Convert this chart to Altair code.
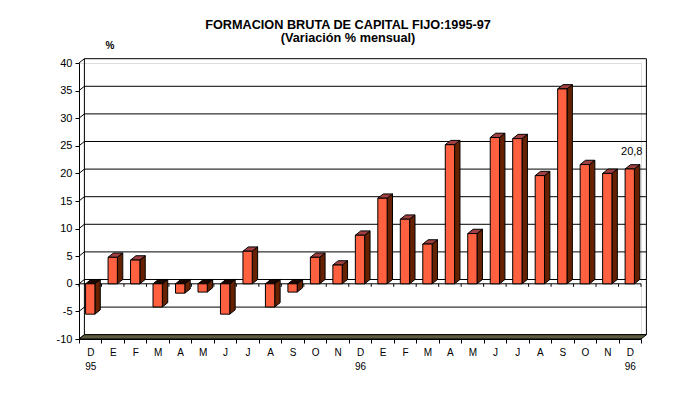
import json
import altair as alt
import pandas as pd

# ---------------- data ----------------
months = ["D", "E", "F", "M", "A", "M", "J", "J", "A", "S", "O", "N",
          "D", "E", "F", "M", "A", "M", "J", "J", "A", "S", "O", "N", "D"]
years = ["95", "", "", "", "", "", "", "", "", "", "", "",
         "96", "", "", "", "", "", "", "", "", "", "", "", "96"]
values = [-5.5, 4.8, 4.3, -4.2, -1.7, -1.5, -5.5, 5.9, -4.2, -1.5, 4.8, 3.4,
          8.8, 15.5, 11.7, 7.2, 25.2, 9.1, 26.5, 26.3, 19.6, 35.3, 21.6, 20.0, 20.8]
y_ticks = [-10, -5, 0, 5, 10, 15, 20, 25, 30, 35, 40]
title_text = "FORMACION BRUTA DE CAPITAL FIJO:1995-97"
subtitle_text = "(Variación % mensual)"
unit_text = "%"
labelled_index = 24

# ---------------- style ----------------
HW = 0.207      # half width of a bar's front face (category units)
DX = 0.24       # 3D depth, x (category units)
DY = 0.78       # 3D depth, y (value units)
FRONT = "#FF6040"
SIDE = "#662200"
TOP = "#A04040"
TOP_NEG = "#1A0800"
FLOOR = "#5F5B40"
FONT = "Liberation Sans"
TFONT = "Liberation Sans"

n = len(values)
ymin, ymax = y_ticks[0], y_ticks[-1]

lab = [[m, y] if y else m for m, y in zip(months, years)]
label_expr = json.dumps(lab) + "[datum.value] || ''"

XS = alt.Scale(domain=[0, n], nice=False, zero=False)
YS = alt.Scale(domain=[ymin, ymax], nice=False, zero=False)
XA = alt.Axis(title=None, values=list(range(n + 1)), tickSize=4, tickColor="black",
              domainColor="black", labelExpr=label_expr, labelOffset=11.24,
              labelAlign="center", labelBaseline="top", labelPadding=4,
              labelLineHeight=14, labelFont=FONT, labelFontSize=10,
              labelColor="black", labelOverlap=False, labelFlush=False,
              grid=False)
YA = alt.Axis(title=None, values=y_ticks, tickSize=4, tickColor="black",
              domainColor="black", labelPadding=3, labelFont=FONT,
              labelExpr="toString(datum.value)",
              labelFontSize=11, labelColor="black", grid=False)


def X(f="x"):
    return alt.X(f + ":Q", scale=XS, axis=XA)


def Y(f="y"):
    return alt.Y(f + ":Q", scale=YS, axis=YA)


# ---------------- frames ----------------
bars = pd.DataFrame({
    "i": range(n),
    "v": values,
})
bars["xl"] = bars["i"] + 0.5 - HW
bars["xr"] = bars["i"] + 0.5 + HW
bars["lo"] = bars["v"].clip(upper=0)
bars["hi"] = bars["v"].clip(lower=0)

side_rows, top_rows = [], []
for r in bars.itertuples():
    side_rows.append({"bar": r.i, "x": r.xr, "y": r.lo, "y2": r.hi})
    side_rows.append({"bar": r.i, "x": r.xr + DX, "y": r.lo + DY, "y2": r.hi + DY})
    c = TOP if r.v > 0 else TOP_NEG
    top_rows.append({"bar": r.i, "y": r.hi, "x": r.xl, "x2": r.xr, "c": c})
    top_rows.append({"bar": r.i, "y": r.hi + DY, "x": r.xl + DX, "x2": r.xr + DX, "c": c})
side = pd.DataFrame(side_rows)
top = pd.DataFrame(top_rows)

grid = pd.DataFrame({"y": [v + DY for v in y_ticks], "x": DX, "x2": n + DX})
conn = pd.DataFrame({"x": 0.0, "x2": DX, "y": y_ticks, "y2": [v + DY for v in y_ticks]})
walls = pd.DataFrame({"x": [DX, n + DX], "y": ymin + DY, "y2": ymax + DY})
floor = pd.DataFrame({"y": [ymin, ymin + DY], "x": [0, DX], "x2": [n, n + DX]})
zero = pd.DataFrame({"x": [0.0], "x2": [float(n)], "y": [0.0]})
zticks = pd.DataFrame({"x": list(range(n + 1)), "y": 0.0})
lbl = pd.DataFrame({"x": [labelled_index + 0.5], "y": [values[labelled_index]],
                    "t": [f"{values[labelled_index]:.1f}".replace(".", ",")]})

# ---------------- layers ----------------
l_grid = alt.Chart(grid).mark_rule(color="black", strokeWidth=1).encode(
    x=X(), x2="x2:Q", y=Y())
l_conn = alt.Chart(conn).mark_rule(color="black", strokeWidth=1).encode(
    x=X(), x2="x2:Q", y=Y(), y2="y2:Q")
l_walls = alt.Chart(walls).mark_rule(color="black", strokeWidth=1).encode(
    x=X(), y=Y(), y2="y2:Q")
l_floor = alt.Chart(floor).mark_area(orient="horizontal", color=FLOOR,
                                     stroke="black", strokeWidth=1).encode(
    y=Y(), x=X(), x2="x2:Q")
l_zero = alt.Chart(zero).mark_rule(color="black", strokeWidth=1).encode(
    x=X(), x2="x2:Q", y=Y())
l_zt = alt.Chart(zticks).mark_rule(color="black", strokeWidth=1, y2Offset=3).encode(
    x=X(), y=Y(), y2="y:Q")
l_side = alt.Chart(side).mark_area(color=SIDE, stroke="black", strokeWidth=1).encode(
    x=X(), y=Y(), y2="y2:Q", detail="bar:N")
l_top = alt.Chart(top).mark_area(orient="horizontal", stroke="black", strokeWidth=1).encode(
    y=Y(), x=X(), x2="x2:Q", detail="bar:N", fill=alt.Fill("c:N", scale=None))
l_front = alt.Chart(bars).mark_rect(color=FRONT, stroke="black", strokeWidth=1).encode(
    x=X("xl"), x2="xr:Q", y=Y("lo"), y2="hi:Q")
l_lbl = alt.Chart(lbl).mark_text(font=FONT, fontSize=11, color="black", dx=2, dy=-14,
                                 baseline="alphabetic").encode(
    x=X(), y=Y(), text="t:N")
l_unit = alt.Chart(pd.DataFrame({"t": [unit_text]})).mark_text(
    font=FONT, fontSize=10, fontWeight="bold", color="black", baseline="alphabetic").encode(
    x=alt.value(31), y=alt.value(-14), text="t:N")

chart = alt.layer(
    l_grid, l_conn, l_walls, l_floor, l_zero, l_zt, l_side, l_top, l_front, l_lbl, l_unit
).properties(
    width=562, height=276,
    padding={"left": 71, "top": 55, "right": 50, "bottom": 48},
    autosize=alt.AutoSizeParams(type="none"),
    title=alt.TitleParams(text=title_text, subtitle=subtitle_text, font=TFONT,
                          fontSize=12.7, fontWeight="bold", color="black",
                          subtitleFont=TFONT, subtitleFontSize=12.7,
                          subtitleFontWeight="bold", subtitleColor="black",
                          subtitlePadding=1, anchor="middle", dx=-12, offset=-4),
).configure_view(stroke=None).configure(background="white")

chart.save("out.html", embed_options={"renderer": "svg", "actions": False})
